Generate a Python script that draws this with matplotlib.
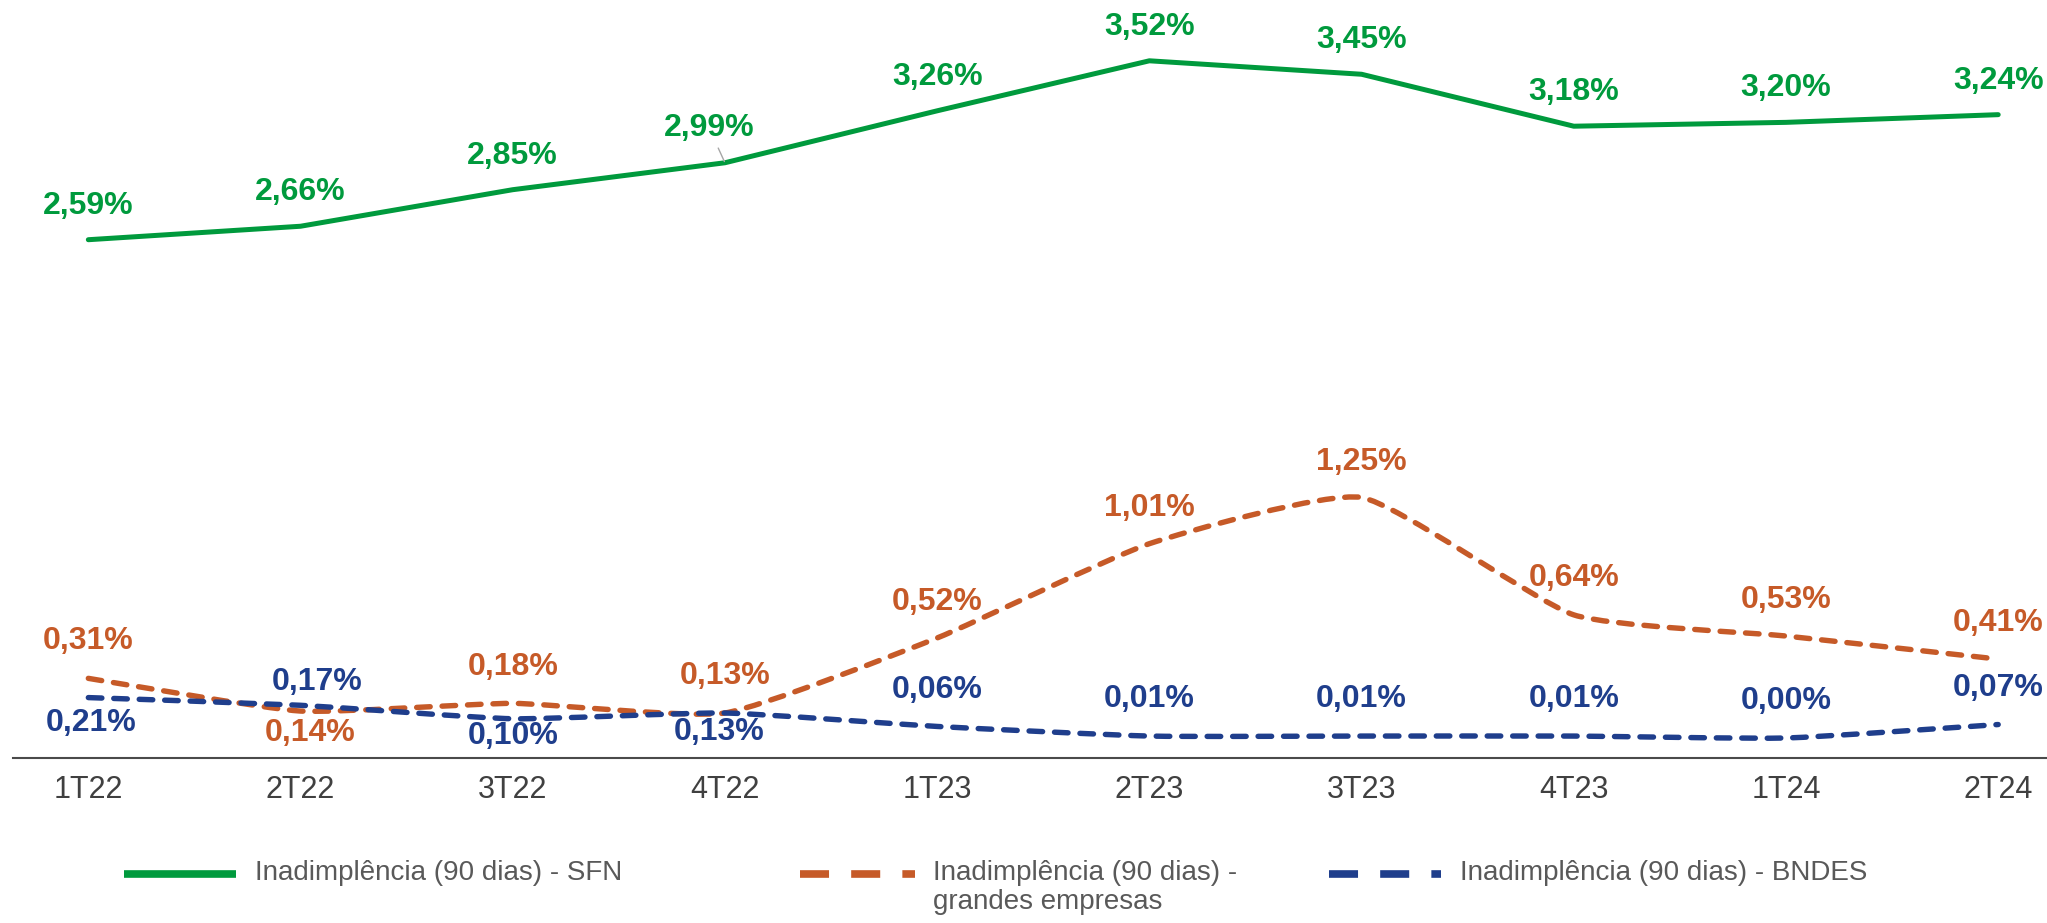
import matplotlib
matplotlib.use('Agg')
import matplotlib.pyplot as plt
from matplotlib.path import Path
from matplotlib.patches import PathPatch
from matplotlib.lines import Line2D
import numpy as np

# ---------------- data ----------------
categories = ['1T22', '2T22', '3T22', '4T22', '1T23', '2T23', '3T23', '4T23', '1T24', '2T24']
sfn = [2.59, 2.66, 2.85, 2.99, 3.26, 3.52, 3.45, 3.18, 3.20, 3.24]
grandes = [0.31, 0.14, 0.18, 0.13, 0.52, 1.01, 1.25, 0.64, 0.53, 0.41]
bndes = [0.21, 0.17, 0.10, 0.13, 0.06, 0.01, 0.01, 0.01, 0.00, 0.07]
legend_labels = ['Inadimplência (90 dias) - SFN',
                 'Inadimplência (90 dias) -\ngrandes empresas',
                 'Inadimplência (90 dias) - BNDES']

# ---------------- style ----------------
GREEN = '#009A3D'
ORANGE = '#C65A28'
BLUE = '#1F3E8C'
TICK_COLOR = '#404040'
LEG_COLOR = '#595959'
FONT = 'Liberation Sans'
plt.rcParams['font.family'] = [FONT, 'DejaVu Sans']

W, H = 2047, 923
fig = plt.figure(figsize=(W / 100, H / 100), dpi=100)
ax_left, ax_bottom_px = 13, 758
ax = fig.add_axes([ax_left / W, 1 - ax_bottom_px / H, 1 - ax_left / W, ax_bottom_px / H])

x = np.arange(len(categories))
ax.set_xlim(-0.355, 9.23)
ax.set_ylim(-0.104, 3.836)

for s in ['top', 'right', 'left']:
    ax.spines[s].set_visible(False)
ax.spines['bottom'].set_color('#4a4a4a')
ax.spines['bottom'].set_linewidth(1.5)
ax.set_yticks([])
ax.set_xticks(x)
ax.set_xticklabels(categories, fontsize=22, color=TICK_COLOR)
ax.tick_params(axis='x', length=0, pad=12)


def smooth_path(xs, ys, k=1 / 12.0):
    P = np.column_stack([xs, ys]).astype(float)
    n = len(P)
    verts = [P[0]]
    codes = [Path.MOVETO]
    for i in range(n - 1):
        p0 = P[max(i - 1, 0)]
        p1 = P[i]
        p2 = P[i + 1]
        p3 = P[min(i + 2, n - 1)]
        c1 = p1 + (p2 - p0) * k
        c2 = p2 - (p3 - p1) * k
        verts += [c1, c2, p2]
        codes += [Path.CURVE4] * 3
    return Path(verts, codes)


# SFN line (straight segments)
ax.plot(x, sfn, color=GREEN, lw=3.6, solid_capstyle='round', solid_joinstyle='round', zorder=3)

# smoothed dashed lines
dash = (0, (2.5, 2.2))
ax.add_patch(PathPatch(smooth_path(x, grandes), fill=False, edgecolor=ORANGE, lw=3.9,
                       linestyle=dash, capstyle='round', zorder=3))
ax.add_patch(PathPatch(smooth_path(x, bndes), fill=False, edgecolor=BLUE, lw=3.9,
                       linestyle=dash, capstyle='round', zorder=4))


def fmt(v):
    return f"{v:.2f}".replace('.', ',') + '%'


PX = 72 / 100  # pixel -> points
green_off = [(0, 34)] * len(categories)
green_off[3] = (-16, 35)
orange_off = [(0, 37), (10, -22), (0, 36), (0, 37), (0, 36), (0, 36), (0, 36), (0, 37), (0, 36), (0, 36)]
blue_off = [(3, -25), (17, 23), (0, -17), (-6, -19), (0, 36), (0, 37), (0, 37), (0, 37), (0, 37), (0, 37)]

for i, v in enumerate(sfn):
    dx, dy = green_off[i]
    kw = {}
    if i == 3:
        kw['arrowprops'] = dict(arrowstyle='-', color='#A6A6A6', lw=1.0, shrinkA=2, shrinkB=1)
    ax.annotate(fmt(v), (x[i], v), xytext=(dx * PX, dy * PX), textcoords='offset points',
                ha='center', va='center', fontsize=23, fontweight='bold', color=GREEN, zorder=5, **kw)

for i, v in enumerate(grandes):
    dx, dy = orange_off[i]
    ax.annotate(fmt(v), (x[i], v), xytext=(dx * PX, dy * PX), textcoords='offset points',
                ha='center', va='center', fontsize=23, fontweight='bold', color=ORANGE, zorder=5)

for i, v in enumerate(bndes):
    dx, dy = blue_off[i]
    ax.annotate(fmt(v), (x[i], v), xytext=(dx * PX, dy * PX), textcoords='offset points',
                ha='center', va='center', fontsize=23, fontweight='bold', color=BLUE, zorder=5)

# ---------------- legend (manual, figure coordinates) ----------------
leg_y = 874
entries = [
    (124, 236, 255, GREEN, '-'),
    (800, 915, 933, ORANGE, (0, (3.8, 2.9))),
    (1329, 1441, 1460, BLUE, (0, (3.8, 2.9))),
]
for (hx0, hx1, tx, col, ls), lab in zip(entries, legend_labels):
    fig.add_artist(Line2D([hx0 / W, hx1 / W], [1 - leg_y / H, 1 - leg_y / H],
                          transform=fig.transFigure, color=col, lw=5.5, linestyle=ls,
                          solid_capstyle='butt', dash_capstyle='butt'))
    fig.text(tx / W, 1 - (leg_y - 14) / H, lab, ha='left', va='top', fontsize=20,
             color=LEG_COLOR, linespacing=1.15)

fig.savefig('out.png', dpi=100)
